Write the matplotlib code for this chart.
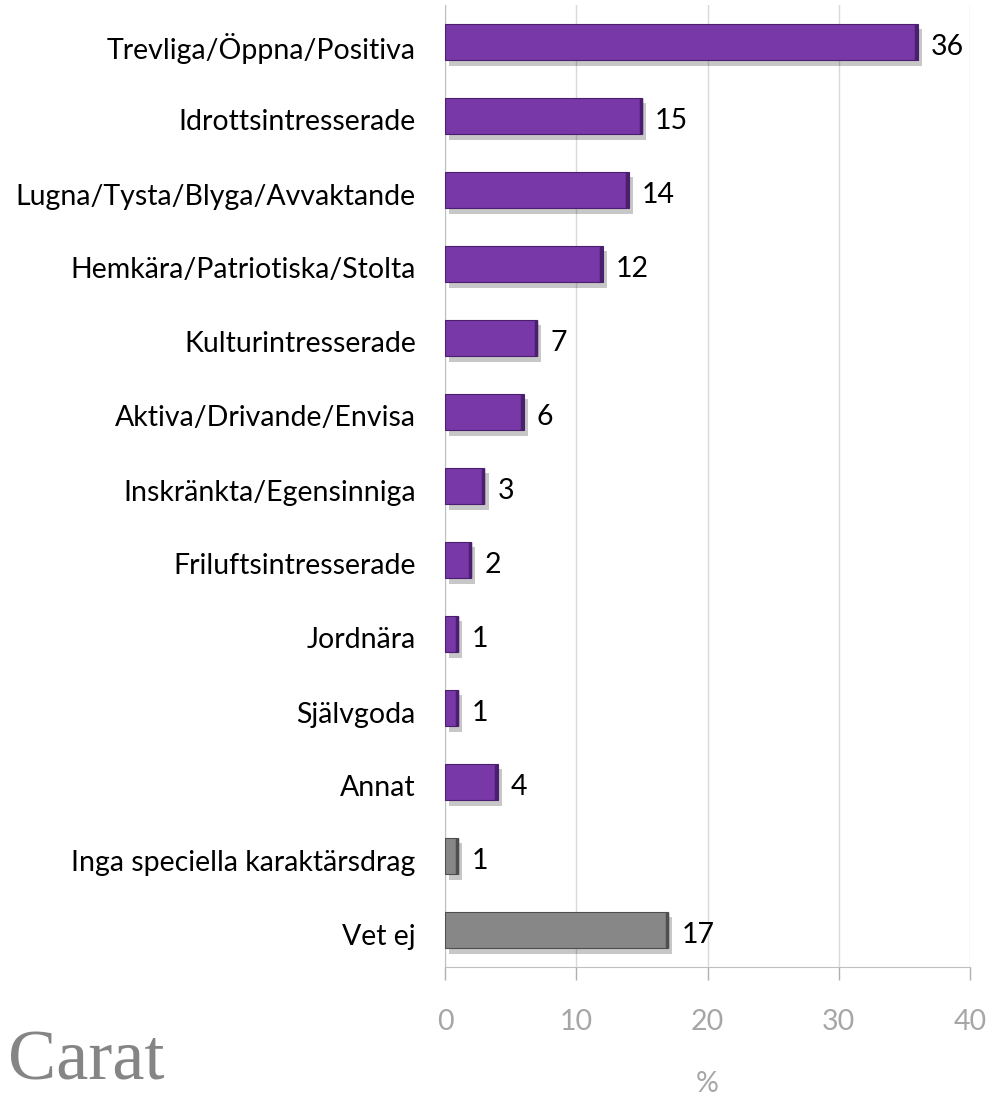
import matplotlib.pyplot as plt
import matplotlib.patheffects as pe
import matplotlib.transforms as mtrans

categories = ['Trevliga/Öppna/Positiva', 'Idrottsintresserade', 'Lugna/Tysta/Blyga/Avvaktande',
              'Hemkära/Patriotiska/Stolta', 'Kulturintresserade', 'Aktiva/Drivande/Envisa',
              'Inskränkta/Egensinniga', 'Friluftsintresserade', 'Jordnära', 'Självgoda',
              'Annat', 'Inga speciella karaktärsdrag', 'Vet ej']
values = [36, 15, 14, 12, 7, 6, 3, 2, 1, 1, 4, 1, 17]
kinds = ['p'] * 11 + ['g'] * 2

fill = {'p': '#7838a8', 'g': '#878787'}
edge = {'p': '#4a1f6e', 'g': '#4f4f4f'}

plt.rcParams['font.family'] = ['Lato', 'DejaVu Sans']

fig = plt.figure(figsize=(9.9, 10.96), dpi=100)
ax = fig.add_axes([445 / 990, 1 - 967 / 1096, 525 / 990, 962 / 1096])

ypos = list(range(len(categories)))
shadow = [pe.SimplePatchShadow(offset=(3, -4), shadow_rgbFace='black', alpha=0.22), pe.Normal()]
for y, v, k in zip(ypos, values, kinds):
    ax.barh(y, v, height=0.49, color=fill[k], edgecolor=edge[k], linewidth=0.8,
            path_effects=shadow, zorder=3)
    ax.vlines(v - 0.1, y - 0.245, y + 0.245, color=edge[k], linewidth=2.5, zorder=4)
    ax.text(v + 1.0, y + 0.07, str(v), va='center', ha='left', fontsize=20.5, color='black')

ax.set_xlim(0, 40)
ax.set_ylim(len(categories) - 0.5, -0.5)
ax.set_yticks(ypos)
ax.set_yticklabels(categories, fontsize=20.5)
ax.tick_params(axis='y', length=0, pad=21)
shift = mtrans.ScaledTranslation(0, -4 / 100, fig.dpi_scale_trans)
for lab in ax.get_yticklabels():
    lab.set_transform(lab.get_transform() + shift)
ax.set_xticks([0, 10, 20, 30, 40])
ax.tick_params(axis='x', colors='#b0b0b0', labelsize=20.5, length=9, width=1, pad=21,
               direction='out')
for lab in ax.get_xticklabels():
    lab.set_color('#a6a6a6')

ax.grid(axis='x', color='#d9d9d9', linewidth=1, zorder=0)
for s in ['top', 'right']:
    ax.spines[s].set_visible(False)
ax.spines['left'].set_color('#bfbfbf')
ax.spines['bottom'].set_color('#bfbfbf')

ax.set_xlabel('%', fontsize=20.5, color='#a6a6a6', labelpad=26)

fig.text(8 / 990, 1 / 1096, 'Carat', fontsize=52, color='#858585',
         family='Liberation Serif', ha='left', va='bottom')

fig.savefig('out.png', dpi=100)
